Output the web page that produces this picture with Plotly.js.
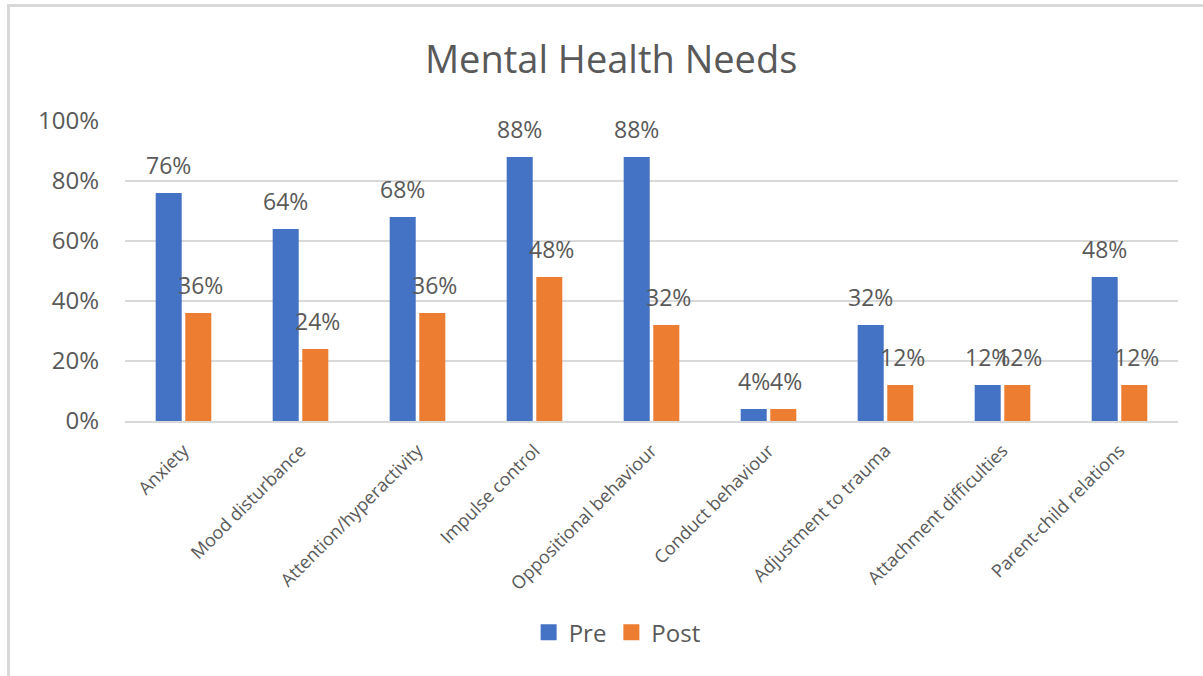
<!DOCTYPE html>
<html>
<head>
<meta charset="utf-8">
<script src="https://cdn.plot.ly/plotly-3.0.1.min.js"></script>
<style>
  html, body { margin: 0; padding: 0; background: #fff; overflow: hidden; }
  #frame { position: absolute; left: 7px; top: 4px; width: 1300px; height: 800px; border: 3px solid #d9d9d9; box-sizing: border-box; }
  #chart { position: absolute; left: 0; top: 0; width: 1203px; height: 676px; }
</style>
</head>
<body>
<div id="frame"></div>
<div id="chart"></div>
<script>
const categories = ["Anxiety", "Mood disturbance", "Attention/hyperactivity", "Impulse control",
  "Oppositional behaviour", "Conduct behaviour", "Adjustment to trauma", "Attachment difficulties",
  "Parent-child relations"];
const preValues  = [0.76, 0.64, 0.68, 0.88, 0.88, 0.04, 0.32, 0.12, 0.48];
const postValues = [0.36, 0.24, 0.36, 0.48, 0.32, 0.04, 0.12, 0.12, 0.12];
const seriesNames = ["Pre", "Post"];
const seriesColors = ["#4472C4", "#ED7D31"];
const yTickVals = [0, 0.2, 0.4, 0.6, 0.8, 1.0];

const textColor = "#595959";
const font = "Open Sans, Noto Sans, sans-serif";

const traces = [
  { type: "bar", name: seriesNames[0], x: categories, y: preValues, marker: { color: seriesColors[0] }, hoverinfo: "none", showlegend: false },
  { type: "bar", name: seriesNames[1], x: categories, y: postValues, marker: { color: seriesColors[1] }, hoverinfo: "none", showlegend: false },
  // legend entries with larger square swatches
  { type: "scatter", mode: "markers", name: seriesNames[0], x: [null], y: [null], marker: { symbol: "square", size: 17, color: seriesColors[0] }, hoverinfo: "none" },
  { type: "scatter", mode: "markers", name: seriesNames[1], x: [null], y: [null], marker: { symbol: "square", size: 17, color: seriesColors[1] }, hoverinfo: "none" }
];

const annotations = [];
[preValues, postValues].forEach((vals, si) => {
  vals.forEach((v, i) => {
    annotations.push({
      x: categories[i], y: v, xref: "x", yref: "y",
      text: Math.round(v * 100) + "%",
      showarrow: false,
      xshift: si === 0 ? -15 : 17,
      yshift: 28,
      font: { family: font, size: 23, color: textColor }
    });
  });
});

const layout = {
  width: 1203, height: 676,
  paper_bgcolor: "rgba(0,0,0,0)", plot_bgcolor: "rgba(0,0,0,0)",
  margin: { l: 125, r: 25, t: 121, b: 255 },
  title: { text: "Mental Health Needs", x: 0.508, xref: "container", xanchor: "center", y: 0.912, yref: "container", yanchor: "middle",
    font: { family: font, size: 38, color: textColor } },
  barmode: "group", bargap: 0.494, bargroupgap: 0.12,
  xaxis: {
    type: "category", tickangle: -45, showgrid: false, showline: true, linecolor: "#d9d9d9", linewidth: 2,
    ticks: "", tickfont: { family: font, size: 18, color: textColor }, ticklabelstandoff: 10, fixedrange: true
  },
  yaxis: {
    range: [0, 1], tickvals: yTickVals, tickformat: ".0%", showgrid: true, gridcolor: "#d9d9d9", gridwidth: 2,
    zeroline: false, showline: false, ticks: "", tickfont: { family: font, size: 24, color: textColor },
    ticklabelstandoff: 25, fixedrange: true
  },
  showlegend: true,
  legend: { orientation: "h", xref: "container", yref: "container", x: 0.513, xanchor: "center", y: 0.064, yanchor: "middle",
    font: { family: font, size: 24, color: textColor }, itemwidth: 30, traceorder: "normal", itemsizing: "trace" },
  annotations: annotations
};

Plotly.newPlot("chart", traces, layout, { displayModeBar: false, staticPlot: true });
</script>
</body>
</html>
